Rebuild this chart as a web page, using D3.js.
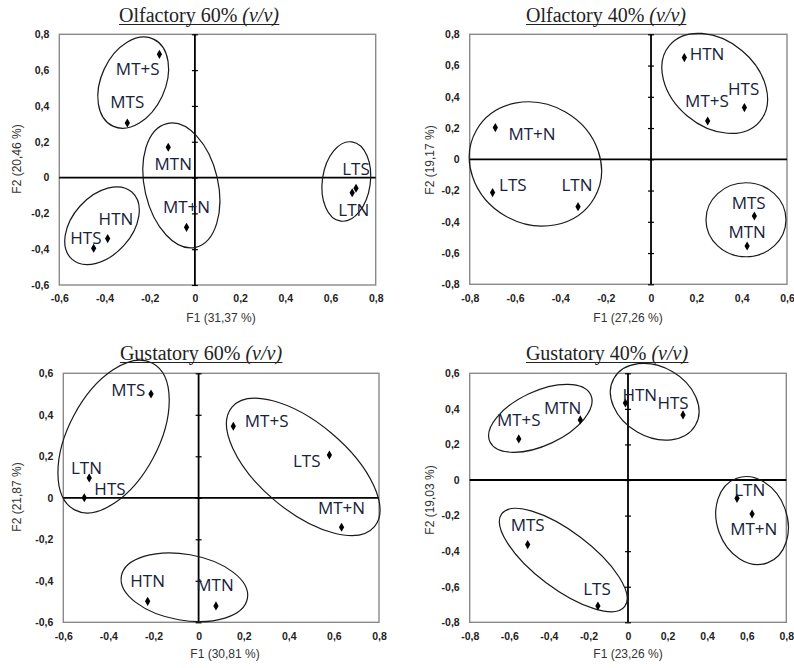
<!DOCTYPE html>
<html><head><meta charset="utf-8">
<script src="https://cdn.jsdelivr.net/npm/d3@7/dist/d3.min.js"></script>
<style>
html,body{margin:0;padding:0;background:#fff;}
svg{display:block;}
</style></head>
<body>
<svg id="chart" width="794" height="668"></svg>
<script>
// ---------- DATA ----------
const titles = ["Olfactory 60% ", "Olfactory 40% ", "Gustatory 60% ", "Gustatory 40% "];
const xTitles = ["F1 (31,37 %)", "F1 (27,26 %)", "F1 (30,81 %)", "F1 (23,26 %)"];
const yTitles = ["F2 (20,46 %)", "F2 (19,17 %)", "F2 (21,87 %)", "F2 (19,03 %)"];

const xTicks1 = [-0.6, -0.4, -0.2, 0, 0.2, 0.4, 0.6, 0.8];
const yTicks1 = [-0.6, -0.4, -0.2, 0, 0.2, 0.4, 0.6, 0.8];
const xTicks2 = [-0.8, -0.6, -0.4, -0.2, 0, 0.2, 0.4, 0.6];
const yTicks2 = [-0.8, -0.6, -0.4, -0.2, 0, 0.2, 0.4, 0.6, 0.8];
const xTicks3 = [-0.6, -0.4, -0.2, 0, 0.2, 0.4, 0.6, 0.8];
const yTicks3 = [-0.6, -0.4, -0.2, 0, 0.2, 0.4, 0.6];
const xTicks4 = [-0.8, -0.6, -0.4, -0.2, 0, 0.2, 0.4, 0.6, 0.8];
const yTicks4 = [-0.8, -0.6, -0.4, -0.2, 0, 0.2, 0.4, 0.6];

const names1 = ["MT+S", "MTS", "MTN", "MT+N", "HTN", "HTS", "LTS", "LTN"];
const f1_1 = [-0.157, -0.299, -0.118, -0.037, -0.386, -0.448, 0.713, 0.696];
const f2_1 = [0.688, 0.305, 0.169, -0.278, -0.341, -0.395, -0.060, -0.085];

const names2 = ["HTN", "HTS", "MT+S", "MT+N", "LTS", "LTN", "MTS", "MTN"];
const f1_2 = [0.147, 0.412, 0.250, -0.687, -0.699, -0.322, 0.456, 0.424];
const f2_2 = [0.651, 0.331, 0.245, 0.203, -0.213, -0.303, -0.363, -0.555];

const names3 = ["MTS", "MT+S", "LTS", "LTN", "HTS", "MT+N", "HTN", "MTN"];
const f1_3 = [-0.211, 0.154, 0.580, -0.485, -0.507, 0.634, -0.226, 0.077];
const f2_3 = [0.500, 0.345, 0.206, 0.096, 0.000, -0.142, -0.499, -0.521];

const names4 = ["HTN", "HTS", "MTN", "MT+S", "LTN", "MT+N", "MTS", "LTS"];
const f1_4 = [-0.013, 0.278, -0.241, -0.552, 0.551, 0.627, -0.507, -0.152];
const f2_4 = [0.433, 0.366, 0.338, 0.231, -0.103, -0.191, -0.363, -0.708];

// group ellipse centres (data units)
const ellCx1 = [-0.273, -0.060, -0.411, 0.670];
const ellCy1 = [0.530, -0.044, -0.269, -0.022];
const ellCx2 = [-0.510, 0.281, 0.419];
const ellCy2 = [-0.030, 0.486, -0.387];
const ellCx3 = [-0.377, 0.464, -0.063];
const ellCy3 = [0.295, 0.149, -0.431];
const ellCx4 = [-0.443, 0.135, 0.627, -0.327];
const ellCy4 = [0.347, 0.440, -0.228, -0.450];

// ---------- LAYOUT / STYLE (not data) ----------
const frames = [
  {l: 59.3, r: 375.7, t: 34.3, b: 285, xd: [-0.6, 0.8], yd: [-0.6, 0.8], titleX: 199, titleY: 21.5, xtX: 221, xtY: 322, ytX: 17, ytY: 159},
  {l: 469.7, r: 787, t: 34.3, b: 284.3, xd: [-0.8, 0.6], yd: [-0.8, 0.8], titleX: 606, titleY: 21.5, xtX: 628, xtY: 322, ytX: 430, ytY: 160},
  {l: 63.3, r: 379, t: 373.3, b: 622.3, xd: [-0.6, 0.8], yd: [-0.6, 0.6], titleX: 201, titleY: 359.5, xtX: 225, xtY: 658, ytX: 17, ytY: 497},
  {l: 469.7, r: 786.3, t: 373.3, b: 622.3, xd: [-0.8, 0.8], yd: [-0.8, 0.6], titleX: 607, titleY: 359.5, xtX: 628, xtY: 658, ytX: 430, ytY: 500}
];
// label offsets in px from marker [dx, dy]
const labelOff = [
  [[-21.7, 14], [0, -21.3], [5, 16], [0, -20.7], [8.3, -20.3], [-7.7, -11], [0, -20], [1.7, 16.7]],
  [[22.7, -4.3], [-0.7, -19.3], [-0.7, -21], [36.7, 5.7], [20.3, -7.7], [-1, -21.7], [-5.7, -13.3], [0, -14.3]],
  [[-22.7, -5], [33.3, -5.7], [-22.7, 5.7], [-2.7, -10], [25.7, -9], [0, -20], [0, -20.7], [-1, -21.3]],
  [[14.3, -9], [-10, -12.7], [-17.7, -12], [0, -19], [12.7, -9.3], [1.7, 14.3], [0, -20], [-1, -17]]
];
// ellipse shapes in px: [rx, ry, rotation deg]
const ellShape = [
  [[32, 48, 25], [36.7, 63.5, -13], [29.5, 45, 42], [24, 40, 8]],
  [[68, 60, 30], [59, 42.6, 40], [40, 37, 0]],
  [[45, 83, 28], [93, 44, 40], [64, 33, 10]],
  [[55.6, 27.1, -25], [47, 35, 30], [35, 45, -20], [77, 28.5, 37]]
];

const panels = [
  {names: names1, x: f1_1, y: f2_1, xt: xTicks1, yt: yTicks1, ecx: ellCx1, ecy: ellCy1},
  {names: names2, x: f1_2, y: f2_2, xt: xTicks2, yt: yTicks2, ecx: ellCx2, ecy: ellCy2},
  {names: names3, x: f1_3, y: f2_3, xt: xTicks3, yt: yTicks3, ecx: ellCx3, ecy: ellCy3},
  {names: names4, x: f1_4, y: f2_4, xt: xTicks4, yt: yTicks4, ecx: ellCx4, ecy: ellCy4}
];

const svg = d3.select("#chart");
const fmt = d => d === 0 ? "0" : (d < 0 ? "-" : "") + Math.abs(d).toFixed(1).replace(".", ",");

panels.forEach((p, i) => {
  const f = frames[i];
  const x = d3.scaleLinear().domain(f.xd).range([f.l, f.r]);
  const y = d3.scaleLinear().domain(f.yd).range([f.b, f.t]);
  const g = svg.append("g");

  // frame
  g.append("rect").attr("x", f.l).attr("y", f.t).attr("width", f.r - f.l).attr("height", f.b - f.t)
    .attr("fill", "none").attr("stroke", "#8a8a8a").attr("stroke-width", 1.4);

  // tick labels along frame
  const ax = g.append("g").attr("transform", `translate(0,${f.b})`)
    .call(d3.axisBottom(x).tickValues(p.xt).tickFormat(fmt).tickSize(0).tickPadding(10));
  ax.select(".domain").remove();
  const ay = g.append("g").attr("transform", `translate(${f.l},0)`)
    .call(d3.axisLeft(y).tickValues(p.yt).tickFormat(fmt).tickSize(0).tickPadding(10));
  ay.select(".domain").remove();
  g.selectAll(".tick text").attr("font-family", "'Liberation Sans', Arial, sans-serif")
    .attr("font-weight", "bold").attr("font-size", 10.5).attr("fill", "#222");

  // zero lines
  g.append("line").attr("x1", f.l).attr("x2", f.r).attr("y1", y(0)).attr("y2", y(0))
    .attr("stroke", "#000").attr("stroke-width", 1.8);
  g.append("line").attr("x1", x(0)).attr("x2", x(0)).attr("y1", f.t).attr("y2", f.b)
    .attr("stroke", "#000").attr("stroke-width", 1.8);
  // cross ticks on the vertical zero axis
  const zt = g.append("g").attr("transform", `translate(${x(0) + 3},0)`)
    .call(d3.axisLeft(y).tickValues(p.yt).tickFormat("").tickSize(6));
  zt.select(".domain").remove();
  zt.selectAll("line").attr("stroke", "#000").attr("stroke-width", 1.2);

  // ellipses
  p.ecx.forEach((cx, k) => {
    const s = ellShape[i][k];
    g.append("ellipse")
      .attr("transform", `translate(${x(cx)},${y(p.ecy[k])}) rotate(${s[2]})`)
      .attr("rx", s[0]).attr("ry", s[1])
      .attr("fill", "none").attr("stroke", "#1a1a1a").attr("stroke-width", 1.2);
  });

  // markers
  const sym = d3.symbol().type(d3.symbolDiamond).size(24);
  p.names.forEach((n, k) => {
    g.append("path").attr("d", sym).attr("transform", `translate(${x(p.x[k])},${y(p.y[k])})`).attr("fill", "#000");
    const o = labelOff[i][k];
    g.append("text").attr("x", x(p.x[k]) + o[0]).attr("y", y(p.y[k]) + o[1])
      .attr("text-anchor", "middle").attr("dominant-baseline", "central")
      .attr("font-family", "'Open Sans', sans-serif").attr("font-size", 17)
      .attr("fill", "#17223b").text(n);
  });

  // axis titles
  g.append("text").attr("x", f.xtX).attr("y", f.xtY).attr("text-anchor", "middle")
    .attr("font-family", "'Liberation Sans', Arial, sans-serif").attr("font-size", 12).attr("fill", "#333")
    .text(xTitles[i]);
  g.append("text").attr("transform", `translate(${f.ytX},${f.ytY}) rotate(-90)`).attr("text-anchor", "middle")
    .attr("dominant-baseline", "central")
    .attr("font-family", "'Liberation Sans', Arial, sans-serif").attr("font-size", 12).attr("fill", "#333")
    .text(yTitles[i]);

  // title
  const t = g.append("text").attr("x", f.titleX).attr("y", f.titleY).attr("text-anchor", "middle")
    .attr("font-family", "'Liberation Serif', 'Times New Roman', serif").attr("font-size", 20).attr("fill", "#222");
  t.append("tspan").text(titles[i]);
  t.append("tspan").attr("font-style", "italic").text("(v/v)");
  const bb = t.node().getBBox();
  g.append("line").attr("x1", bb.x).attr("x2", bb.x + bb.width).attr("y1", f.titleY + 3).attr("y2", f.titleY + 3)
    .attr("stroke", "#222").attr("stroke-width", 1.2);
});
</script>
</body></html>
